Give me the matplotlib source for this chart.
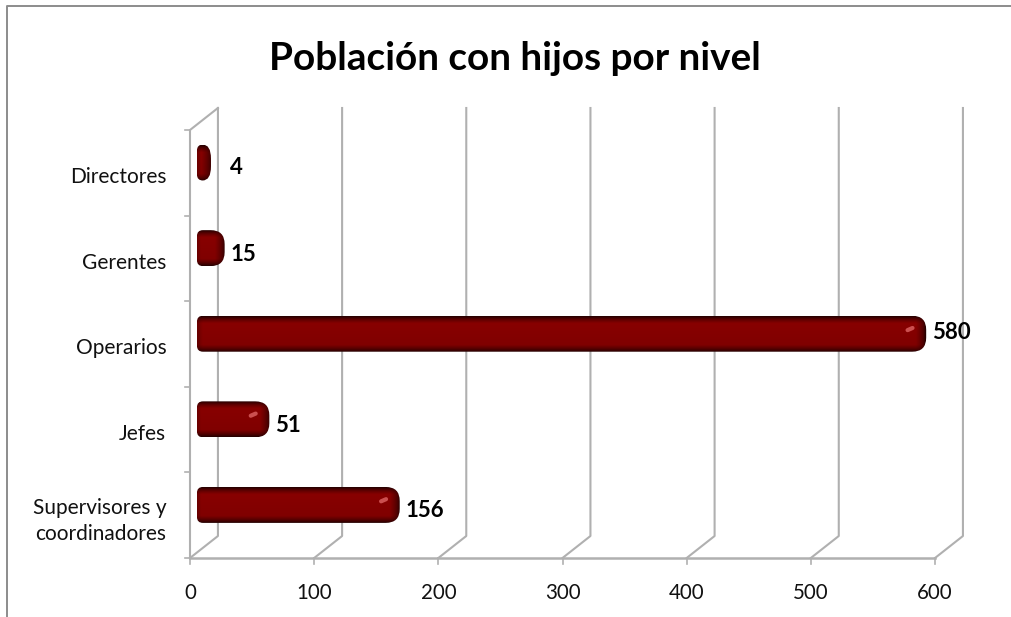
import matplotlib
matplotlib.use('Agg')
import matplotlib.pyplot as plt
from matplotlib.colors import to_rgb
from matplotlib.lines import Line2D
from matplotlib.patches import PathPatch
from matplotlib.path import Path
import numpy as np

plt.rcParams['font.family'] = ['Lato', 'DejaVu Sans']

categories = ['Supervisores y\ncoordinadores', 'Jefes', 'Operarios', 'Gerentes', 'Directores']
values = [156, 51, 580, 15, 4]
x_ticks = [0, 100, 200, 300, 400, 500, 600]

# small hand nudges for the value labels (style only)
label_dx = [0, 0, 0, 0, 10]
label_dy = [-0.07, -0.07, 0.01, -0.07, -0.06]

W, H = 1011, 617
grid_col = '#b0b0b0'
depth_x = 22.5   # 3d depth of the floor, in data units
depth_y = 0.257
px_x = 745 / 600  # pixels per data unit
px_y = 428 / 5


def bar_path(x0, x1, y0, y1, rl, rr):
    # rounded box, rl and rr are corner radii in pixels
    lx, ly = rl / px_x, rl / px_y
    rx, ry = min(rr / px_x, (x1 - x0) * 0.6), rr / px_y
    verts = [(x0 + lx, y0), (x1 - rx, y0), (x1, y0), (x1, y0 + ry), (x1, y1 - ry), (x1, y1),
             (x1 - rx, y1), (x0 + lx, y1), (x0, y1), (x0, y1 - ly), (x0, y0 + ly), (x0, y0),
             (x0 + lx, y0), (x0 + lx, y0)]
    codes = [Path.MOVETO, Path.LINETO, Path.CURVE3, Path.CURVE3, Path.LINETO, Path.CURVE3,
             Path.CURVE3, Path.LINETO, Path.CURVE3, Path.CURVE3, Path.LINETO, Path.CURVE3,
             Path.CURVE3, Path.CLOSEPOLY]
    return Path(verts, codes)


fig = plt.figure(figsize=(W / 100, H / 100), dpi=100)
ax = fig.add_axes([190 / W, 1 - 558 / H, 745 / W, 428 / H])
ax.set_xlim(0, 600)
ax.set_ylim(0, 5)
ax.axis('off')

# outer chart frame, only left and top show in the crop
fig.add_artist(Line2D([6.5 / W, 6.5 / W, 1], [0, 1 - 6 / H, 1 - 6 / H], color='#8c8c8c', lw=1.4,
                      transform=fig.transFigure))

# walls and floor of the 3d box
for v in x_ticks:
    ax.plot([v, v + depth_x, v + depth_x], [0, depth_y, 5 + depth_y],
            color=grid_col, lw=1.5, clip_on=False, zorder=1)
    ax.plot([v, v], [0, -0.07], color=grid_col, lw=1.2, clip_on=False, zorder=1)
    ax.text(v, -0.41, str(v), ha='center', va='center', fontsize=14.8, color='#111111')
ax.plot([0, 600], [0, 0], color=grid_col, lw=1.8, clip_on=False, zorder=1)
ax.plot([0, 0, depth_x], [0, 5, 5 + depth_y], color=grid_col, lw=1.5, clip_on=False, zorder=1)
for i in range(6):
    ax.plot([-4, 0], [i, i], color=grid_col, lw=1.2, clip_on=False, zorder=1)

# rounded cylinder bars
dark = np.array(to_rgb('#240000'))
core = np.array(to_rgb('#8a0000'))
bar_h = 0.42
for i, (cat, v) in enumerate(zip(categories, values)):
    y0 = i + 0.41
    x0 = 5.6
    x1 = v + 12.9
    yy = np.linspace(-1, 1, 80)[:, None]
    xx = np.linspace(x0, x1, 300)[None, :]
    shade = np.clip((1 - np.abs(yy) ** 2.6) * 1.35, 0, 1) * (0.88 + 0.12 * (yy + 1) / 2)
    edge = np.clip((x1 - xx) / 8, 0, 1) ** 0.6
    edge_l = 0.7 + 0.3 * np.clip((xx - x0) / 3, 0, 1)
    m = (shade * edge * edge_l)[:, :, None]
    img = dark + (core - dark) * m
    im = ax.imshow(img, extent=[x0, x1, y0, y0 + bar_h], origin='lower', aspect='auto',
                   interpolation='bilinear', zorder=3)
    clip = PathPatch(bar_path(x0, x1, y0, y0 + bar_h, 6, 14), fc='none', ec='none',
                     transform=ax.transData, zorder=3)
    ax.add_patch(clip)
    im.set_clip_path(clip)
    if v > 40:
        ax.plot([x1 - 15, x1 - 11], [y0 + bar_h * 0.6, y0 + bar_h * 0.66], color='#e46a6a',
                lw=3, solid_capstyle='round', alpha=0.75, zorder=4)
    ax.text(x1 + 5 + label_dx[i], y0 + bar_h / 2 + label_dy[i], str(v), ha='left', va='center',
            fontsize=16, fontweight='bold', color='black', zorder=5)
    ax.text(-19, i + 0.43 if '\n' in cat else i + 0.45, cat, ha='right', va='center',
            fontsize=15, color='#111111', linespacing=1.4)

fig.text(515 / W, 1 - 58 / H, 'Población con hijos por nivel', ha='center', va='center',
         fontsize=27.9, fontweight='bold', color='black')

ax.set_xlim(0, 600)
ax.set_ylim(0, 5)
fig.savefig('out.png', dpi=100, facecolor='white')
